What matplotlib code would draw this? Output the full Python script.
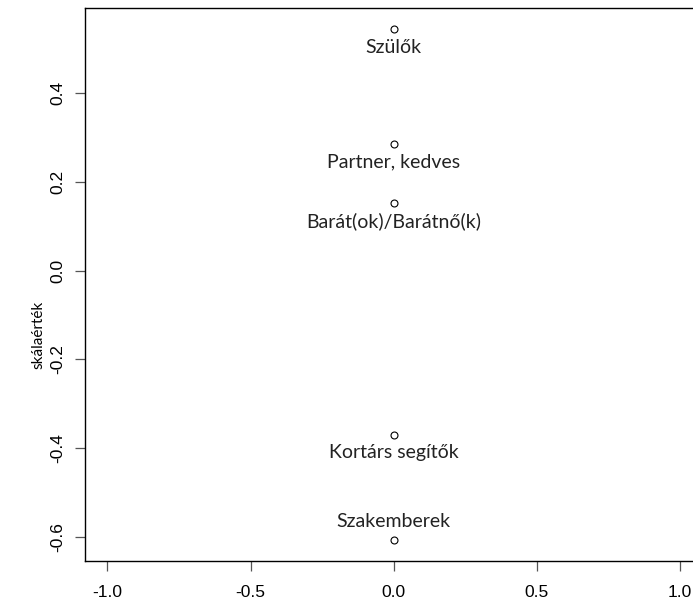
import matplotlib.pyplot as plt

labels = ['Szülők', 'Partner, kedves', 'Barát(ok)/Barátnő(k)', 'Kortárs segítők', 'Szakemberek']
xvals = [0, 0, 0, 0, 0]
yvals = [0.544, 0.285, 0.152, -0.370, -0.607]
label_pos = ['below', 'below', 'below', 'below', 'above']

xticks = [-1.0, -0.5, 0.0, 0.5, 1.0]
yticks = [-0.6, -0.4, -0.2, 0.0, 0.2, 0.4]

fig = plt.figure(figsize=(6.93, 6.06), dpi=100)
ax = fig.add_axes([0.122, 0.0743, 0.892, 0.9125])

ax.plot(xvals, yvals, 'o', mfc='white', mec='black', ms=5.0, mew=0.8, ls='none')
for x, y, lab, p in zip(xvals, yvals, labels, label_pos):
    off = -18 if p == 'below' else 18
    ax.annotate(lab, (x, y), xytext=(0, off), textcoords='offset pixels',
                ha='center', va='center', fontsize=14, family=['Lato', 'DejaVu Sans'], color='#222222')

ax.set_xlim(-1.08, 1.08)
ax.set_ylim(-0.655, 0.592)
ax.set_xticks(xticks)
ax.set_yticks(yticks)
ax.set_xticklabels(['%.1f' % v for v in xticks], family='Liberation Sans', fontsize=12.5)
ax.set_yticklabels(['%.1f' % v for v in yticks], family='Liberation Sans', fontsize=12.5,
                   rotation=90, va='center')
ax.tick_params(direction='out', length=7, width=0.9, color='#555555')
ax.tick_params(axis='x', pad=10)
ax.tick_params(axis='y', pad=7)
for s in ax.spines.values():
    s.set_linewidth(1.0)

fig.text(0.055, 0.447, 'skálaérték', rotation=90, ha='center', va='center',
         fontsize=11, family=['Lato', 'DejaVu Sans'])

fig.savefig('out.png', dpi=100)
